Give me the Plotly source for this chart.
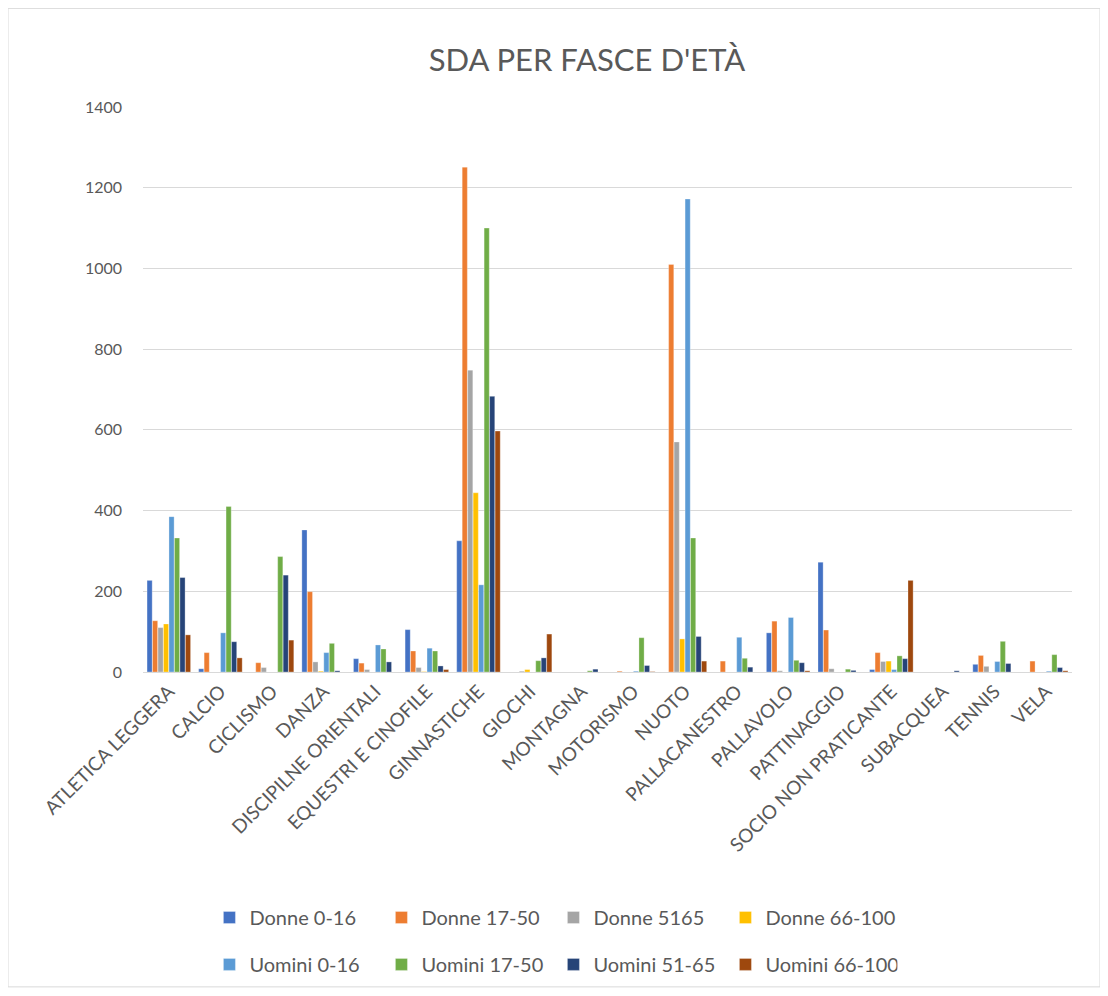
import plotly.graph_objects as go

categories = ["ATLETICA LEGGERA", "CALCIO", "CICLISMO", "DANZA", "DISCIPILNE ORIENTALI",
              "EQUESTRI E CINOFILE", "GINNASTICHE", "GIOCHI", "MONTAGNA", "MOTORISMO",
              "NUOTO", "PALLACANESTRO", "PALLAVOLO", "PATTINAGGIO", "SOCIO NON PRATICANTE",
              "SUBACQUEA", "TENNIS", "VELA"]

donne_0_16 = [227, 8, 0, 352, 33, 105, 325, 0, 0, 0, 0, 0, 97, 272, 6, 0, 19, 0]
donne_17_50 = [127, 48, 23, 199, 22, 52, 1251, 0, 0, 2, 1010, 27, 126, 104, 48, 0, 41, 27]
donne_5165 = [110, 0, 11, 25, 6, 11, 748, 2, 0, 0, 570, 0, 3, 8, 26, 0, 14, 0]
donne_66_100 = [119, 0, 0, 2, 0, 1, 444, 6, 0, 0, 82, 0, 0, 0, 27, 0, 0, 0]
uomini_0_16 = [385, 97, 0, 48, 67, 59, 216, 0, 0, 2, 1172, 86, 135, 0, 6, 0, 26, 2]
uomini_17_50 = [332, 410, 286, 71, 57, 52, 1100, 28, 3, 85, 332, 34, 29, 7, 40, 0, 76, 43]
uomini_51_65 = [234, 75, 240, 3, 25, 15, 683, 35, 7, 16, 88, 12, 23, 4, 33, 3, 21, 11]
uomini_66_100 = [92, 35, 79, 0, 0, 6, 597, 94, 0, 1, 27, 0, 3, 0, 227, 0, 0, 3]

series = [
    ("Donne 0-16", donne_0_16, "#4472C4", "legend"),
    ("Donne 17-50", donne_17_50, "#ED7D31", "legend"),
    ("Donne 5165", donne_5165, "#A5A5A5", "legend"),
    ("Donne 66-100", donne_66_100, "#FFC000", "legend"),
    ("Uomini 0-16", uomini_0_16, "#5B9BD5", "legend2"),
    ("Uomini 17-50", uomini_17_50, "#70AD47", "legend2"),
    ("Uomini 51-65", uomini_51_65, "#264478", "legend2"),
    ("Uomini 66-100", uomini_66_100, "#9E480E", "legend2"),
]

FONT = "Lato"
GREY = "#595959"

W, H = 1100, 988
L, R, T, B = 135, 36, 99, 322
PW, PH = W - L - R, H - T - B

fig = go.Figure()
for name, vals, color, lg in series:
    fig.add_trace(go.Bar(
        x=categories, y=vals, name=name,
        marker=dict(color=color, line=dict(color="rgba(255,255,255,0.6)", width=0.5)),
        legend=lg,
    ))

legend_common = dict(
    orientation="h", xanchor="left", yanchor="top",
    entrywidth=127, entrywidthmode="pixels",
    font=dict(family=FONT, size=20, color=GREY),
    bgcolor="rgba(0,0,0,0)", itemclick=False, itemdoubleclick=False,
)

fig.update_layout(
    width=W, height=H,
    margin=dict(l=L, r=R, t=T, b=B),
    paper_bgcolor="white", plot_bgcolor="white",
    barmode="group", bargap=0.15, bargroupgap=0.06,
    title=dict(text="SDA PER FASCE D'ETÀ", x=0.478, xref="paper", xanchor="center",
               y=1 - 52 / H, yanchor="middle",
               font=dict(family=FONT, size=31, color=GREY)),
    font=dict(family=FONT, color=GREY),
    legend=dict(x=0.0715, y=-0.400, **legend_common),
    legend2=dict(x=0.0715, y=-0.483, **legend_common),
    xaxis=dict(
        tickangle=-45, tickfont=dict(family=FONT, size=19, color=GREY),
        showgrid=False, showline=True, linecolor="#D9D9D9", linewidth=1,
        ticks="", fixedrange=True,
    ),
    yaxis=dict(
        range=[0, 1400], dtick=200, tickfont=dict(family=FONT, size=16, color=GREY),
        showgrid=True, gridcolor="#D9D9D9", gridwidth=1, zeroline=False,
        showline=False, ticks="", ticklabelstandoff=20, fixedrange=True,
    ),
    shapes=[dict(type="rect", xref="paper", yref="paper",
                 x0=(0 - L) / PW, x1=(1092 - L) / PW,
                 y0=(H - B - 982) / PH, y1=(H - B - 0) / PH,
                 line=dict(color="#D9D9D9", width=1), fillcolor="rgba(0,0,0,0)",
                 layer="below")],
)

fig.write_html("out.html")
